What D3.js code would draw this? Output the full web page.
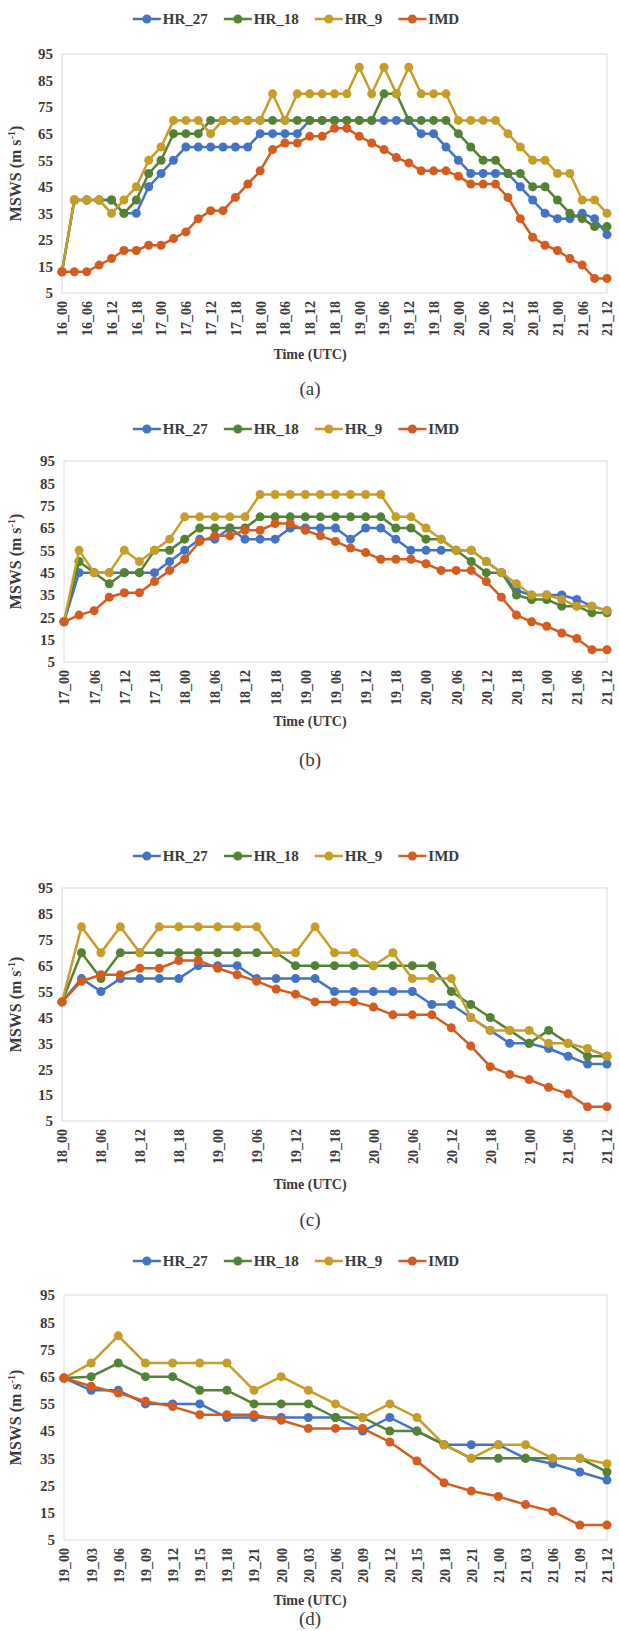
<!DOCTYPE html>
<meta charset="utf-8">
<title>MSWS forecasts vs IMD</title>
<style>

body {
  margin: 0;
  background-color: white;
}

text {
  font-family: "Liberation Serif", "Times New Roman", serif;
  fill: #3a3a3a;
}

.frame {
  fill: none;
  stroke: #d9d9d9;
  stroke-width: 1px;
}

.tick text {
  font-size: 14px;
  font-weight: bold;
}

.y-axis .tick text {
  font-size: 15px;
}

.series {
  fill: none;
  stroke-width: 2.5px;
  stroke-linejoin: round;
}

</style>
<body>
<script src="https://d3js.org/d3.v7.min.js"></script>
<script>

var width = 619,
    height = 1631;

var names = ["HR_27", "HR_18", "HR_9", "IMD"],
    colors = ["#4472c4", "#548235", "#c79d2a", "#d45c1e"],
    yTicks = [5, 15, 25, 35, 45, 55, 65, 75, 85, 95];

var times = [
  "16_00", "16_03", "16_06", "16_09", "16_12", "16_15", "16_18", "16_21",
  "17_00", "17_03", "17_06", "17_09", "17_12", "17_15", "17_18", "17_21",
  "18_00", "18_03", "18_06", "18_09", "18_12", "18_15", "18_18", "18_21",
  "19_00", "19_03", "19_06", "19_09", "19_12", "19_15", "19_18", "19_21",
  "20_00", "20_03", "20_06", "20_09", "20_12", "20_15", "20_18", "20_21",
  "21_00", "21_03", "21_06", "21_09", "21_12"
];

// (a) from 16_00
var hr27A = [13,40,40,40,40,35,35,45,50,55,60,60,60,60,60,60,65,65,65,65,70,70,70,70,70,70,70,70,70,65,65,60,55,50,50,50,50,45,40,35,33,33,35,33,27];
var hr18A = [13,40,40,40,40,35,40,50,55,65,65,65,70,70,70,70,70,70,70,70,70,70,70,70,70,70,80,80,70,70,70,70,65,60,55,55,50,50,45,45,40,35,33,30,30];
var hr9A  = [13,40,40,40,35,40,45,55,60,70,70,70,65,70,70,70,70,80,70,80,80,80,80,80,90,80,90,80,90,80,80,80,70,70,70,70,65,60,55,55,50,50,40,40,35];
var imdA  = [13,13,13,15.5,18,21,21,23,23,25.5,28,33,36,36,41,46,51,59,61.5,61.5,64,64,67,67,64,61.5,59,56,54,51,51,51,49,46,46,46,41,33,26,23,21,18,15.5,10.5,10.5];

// (b) from 17_00
var hr27B = [23,45,45,45,45,45,45,50,55,60,60,65,60,60,60,65,65,65,65,60,65,65,60,55,55,55,55,55,50,45,37,35,35,35,33,30,28];
var hr18B = [23,50,45,40,45,45,55,55,60,65,65,65,65,70,70,70,70,70,70,70,70,70,65,65,60,60,55,50,45,45,35,33,33,30,30,27,27];
var hr9B  = [23,55,45,45,55,50,55,60,70,70,70,70,70,80,80,80,80,80,80,80,80,80,70,70,65,60,55,55,50,45,40,35,35,33,30,30,28];
var imdB  = [23,26,28,34,36,36,41,46,51,59,61.5,61.5,64,64,67,67,64,61.5,59,56,54,51,51,51,49,46,46,46,41,34,26,23,21,18,15.5,10.5,10.5];

// (c) from 18_00
var hr27C = [51,60,55,60,60,60,60,65,65,65,60,60,60,60,55,55,55,55,55,50,50,45,40,35,35,33,30,27,27];
var hr18C = [51,70,60,70,70,70,70,70,70,70,70,70,65,65,65,65,65,65,65,65,55,50,45,40,35,40,35,30,30];
var hr9C  = [51,80,70,80,70,80,80,80,80,80,80,70,70,80,70,70,65,70,60,60,60,45,40,40,40,35,35,33,30];
var imdC  = [51,59,61.5,61.5,64,64,67,67,64,61.5,59,56,54,51,51,51,49,46,46,46,41,34,26,23,21,18,15.5,10.5,10.5];

// (d) from 19_00
var hr27D = [64.5,60,60,55,55,55,50,50,50,50,50,45,50,45,40,40,40,35,33,30,27];
var hr18D = [64.5,65,70,65,65,60,60,55,55,55,50,50,45,45,40,35,35,35,35,35,30];
var hr9D  = [64.5,70,80,70,70,70,70,60,65,60,55,50,55,50,40,35,40,40,35,35,33];
var imdD  = [64.5,61.5,59,56,54,51,51,51,49,46,46,46,41,34,26,23,21,18,15.5,10.5,10.5];

var panels = [
  {cats: times,           every: 2, series: [hr27A, hr18A, hr9A, imdA], caption: "(a)",
   legendY: 19,   top: 54,   bottom: 293,  left: 62, right: 607, timeY: 354,  capY: 388},
  {cats: times.slice(8),  every: 2, series: [hr27B, hr18B, hr9B, imdB], caption: "(b)",
   legendY: 429,  top: 461,  bottom: 662,  left: 64, right: 607, timeY: 721,  capY: 759},
  {cats: times.slice(16), every: 2, series: [hr27C, hr18C, hr9C, imdC], caption: "(c)",
   legendY: 856,  top: 888,  bottom: 1121, left: 62, right: 607, timeY: 1184, capY: 1219},
  {cats: times.slice(24), every: 1, series: [hr27D, hr18D, hr9D, imdD], caption: "(d)",
   legendY: 1261, top: 1295, bottom: 1540, left: 64, right: 607, timeY: 1600, capY: 1618}
];

var svg = d3.select("body").append("svg")
    .attr("width", width)
    .attr("height", height);

panels.forEach(drawPanel);

function drawPanel(p) {
  var g = svg.append("g");

  var x = d3.scalePoint().domain(p.cats).range([p.left, p.right]),
      y = d3.scaleLinear().domain([5, 95]).range([p.bottom, p.top]);

  g.append("rect")
      .attr("class", "frame")
      .attr("x", p.left)
      .attr("y", p.top)
      .attr("width", p.right - p.left)
      .attr("height", p.bottom - p.top);

  g.append("g")
      .attr("class", "y-axis")
      .attr("transform", "translate(" + p.left + ",0)")
      .call(d3.axisLeft(y).tickValues(yTicks).tickSize(0).tickPadding(9))
      .call(function(a) { a.select(".domain").remove(); });

  g.append("g")
      .attr("transform", "translate(0," + p.bottom + ")")
      .call(d3.axisBottom(x)
          .tickValues(p.cats.filter(function(d, i) { return i % p.every === 0; }))
          .tickSize(0))
      .call(function(a) { a.select(".domain").remove(); })
    .selectAll("text")
      .attr("transform", "rotate(-90)")
      .attr("text-anchor", "end")
      .attr("x", -8)
      .attr("y", 0)
      .attr("dy", "0.35em");

  var line = d3.line()
      .x(function(d, i) { return x(p.cats[i]); })
      .y(function(d) { return y(d); });

  p.series.forEach(function(vals, k) {
    g.append("path")
        .datum(vals)
        .attr("class", "series")
        .attr("stroke", colors[k])
        .attr("d", line);

    g.selectAll(null)
        .data(vals)
      .enter().append("circle")
        .attr("cx", function(d, i) { return x(p.cats[i]); })
        .attr("cy", function(d) { return y(d); })
        .attr("r", 4.5)
        .attr("fill", colors[k]);
  });

  // y title
  var yt = g.append("text")
      .attr("transform", "translate(21," + (p.top + p.bottom) / 2 + ")rotate(-90)")
      .attr("text-anchor", "middle")
      .style("font-size", "16px")
      .style("font-weight", "bold");
  yt.append("tspan").text("MSWS (m s");
  yt.append("tspan").attr("dy", -6).style("font-size", "10px").text("-1");
  yt.append("tspan").attr("dy", 6).text(")");

  g.append("text")
      .attr("x", 310)
      .attr("y", p.timeY)
      .attr("dy", "0.35em")
      .attr("text-anchor", "middle")
      .style("font-size", "14px")
      .style("font-weight", "bold")
      .text("Time (UTC)");

  g.append("text")
      .attr("x", 310)
      .attr("y", p.capY)
      .attr("dy", "0.35em")
      .attr("text-anchor", "middle")
      .style("font-size", "19px")
      .text(p.caption);

  // legend
  var lg = g.append("g");
  var cx = 0;
  names.forEach(function(n, k) {
    var item = lg.append("g").attr("transform", "translate(" + cx + ",0)");
    item.append("line")
        .attr("x1", 0).attr("x2", 28)
        .attr("stroke", colors[k])
        .attr("stroke-width", 2.5);
    item.append("circle")
        .attr("cx", 14)
        .attr("r", 4.5)
        .attr("fill", colors[k]);
    var t = item.append("text")
        .attr("x", 30)
        .attr("dy", "0.35em")
        .style("font-size", "15px")
        .style("font-weight", "bold")
        .text(n);
    cx += 30 + t.node().getComputedTextLength() + 16;
  });
  cx -= 16;
  lg.attr("transform", "translate(" + (296 - cx / 2) + "," + p.legendY + ")");
}

</script>
